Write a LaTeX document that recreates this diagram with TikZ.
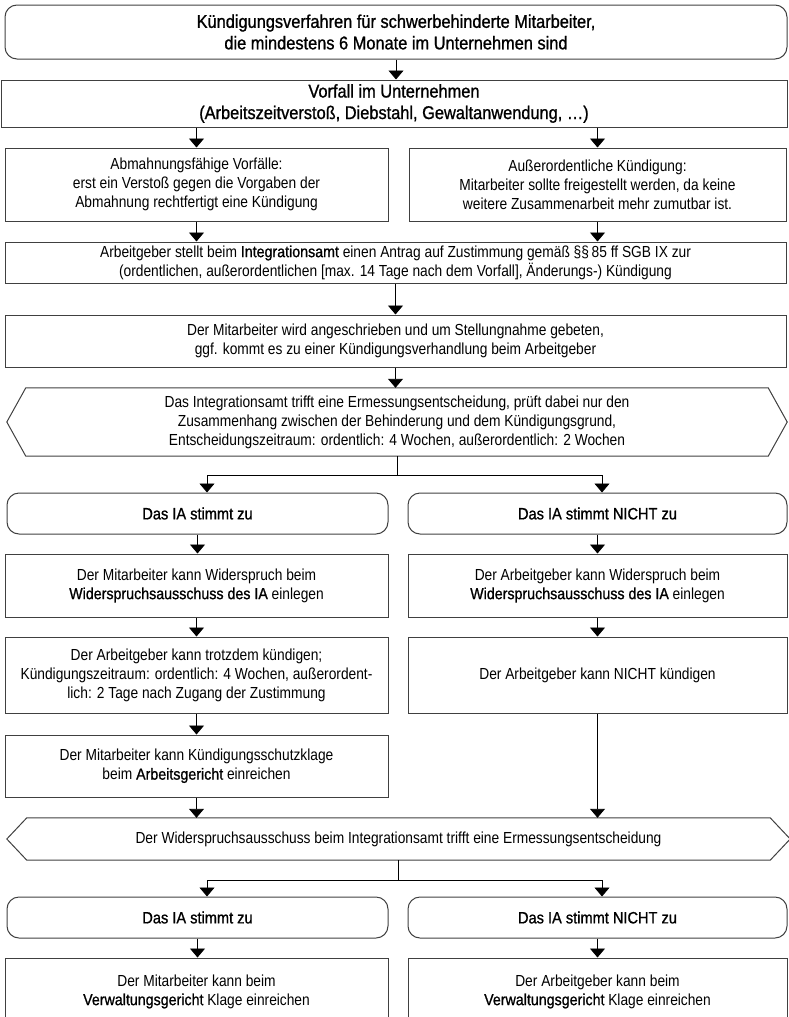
\documentclass[tikz,border=0pt]{standalone}
\usepackage{fontspec}
\setmainfont[FakeStretch=0.86]{Liberation Sans}
\newfontfamily\medfont[FakeStretch=0.89,FakeBold=1]{Liberation Sans}
\newcommand{\hl}[1]{{\medfont #1}}
\usetikzlibrary{arrows.meta}

\begin{document}
\begin{tikzpicture}[x=1pt,y=-1pt,
  box/.style={draw=black!75,line width=1pt,align=center,inner sep=0pt,font=\fontsize{16}{19}\selectfont},
  headbox/.style={box,font=\fontsize{18.4}{21.5}\medfont},
  rbox/.style={box,rounded corners=12pt,font=\fontsize{16.4}{19}\medfont},
  hexbox/.style={align=center,inner sep=0pt,font=\fontsize{16}{19}\selectfont},
  arr/.style={line width=0.9pt,-{Triangle[width=15pt,length=9pt]}}]
\useasboundingbox (0,0) rectangle (788,1017);

\node[headbox,rounded corners=12pt,minimum width=782,minimum height=54] (top) at (396,32)
  {Kündigungsverfahren für schwerbehinderte Mitarbeiter,\\die mindestens 6 Monate im Unternehmen sind};
\node[headbox,minimum width=786,minimum height=47] (vorfall) at (394,103.5)
  {Vorfall im Unternehmen\\(Arbeitszeitverstoß, Diebstahl, Gewaltanwendung, …)};
\node[box,minimum width=383,minimum height=73] (abm) at (196.5,184.5)
  {Abmahnungsfähige Vorfälle:\\erst ein Verstoß gegen die Vorgaben der\\Abmahnung rechtfertigt eine Kündigung};
\node[box,minimum width=377,minimum height=73] (ausser) at (597.5,184.5)
  {Außerordentliche Kündigung:\\Mitarbeiter sollte freigestellt werden, da keine\\weitere Zusammenarbeit mehr zumutbar ist.};
\node[box,minimum width=781,minimum height=41] (antrag) at (395.5,262.5)
  {Arbeitgeber stellt beim \hl{Integrationsamt} einen Antrag auf Zustimmung gemäß §§\,85 ff SGB IX zur\\(ordentlichen, außerordentlichen [max. 14 Tage nach dem Vorfall], Änderungs-) Kündigung};
\node[box,minimum width=781,minimum height=52] (anschr) at (395.5,341)
  {Der Mitarbeiter wird angeschrieben und um Stellungnahme gebeten,\\ggf. kommt es zu einer Kündigungsverhandlung beim Arbeitgeber};
\node[hexbox,minimum width=742,minimum height=68] (hex1) at (397,422)
  {Das Integrationsamt trifft eine Ermessungsentscheidung, prüft dabei nur den\\Zusammenhang zwischen der Behinderung und dem Kündigungsgrund,\\Entscheidungszeitraum: ordentlich: 4 Wochen, außerordentlich: 2 Wochen};
\draw[draw=black!75,line width=1pt] (hex1.north west) -- ([xshift=-19]hex1.west) -- (hex1.south west)
  -- (hex1.south east) -- ([xshift=19]hex1.east) -- (hex1.north east) -- cycle;

\node[rbox,minimum width=381,minimum height=41] (zu1) at (197.5,513.5) {Das IA stimmt zu};
\node[rbox,minimum width=379,minimum height=41] (nicht1) at (597.5,513.5) {Das IA stimmt NICHT zu};
\node[box,minimum width=383,minimum height=63] (wider1) at (196.5,585.5)
  {Der Mitarbeiter kann Widerspruch beim\\\hl{Widerspruchsausschuss des IA} einlegen};
\node[box,minimum width=379,minimum height=63] (wider2) at (597.5,585.5)
  {Der Arbeitgeber kann Widerspruch beim\\\hl{Widerspruchsausschuss des IA} einlegen};
\node[box,minimum width=383,minimum height=76] (trotz) at (196.5,675)
  {Der Arbeitgeber kann trotzdem kündigen;\\Kündigungszeitraum: ordentlich: 4 Wochen, außerordent-\\lich: 2 Tage nach Zugang der Zustimmung};
\node[box,minimum width=379,minimum height=76] (nichtk) at (597.5,675) {Der Arbeitgeber kann NICHT kündigen};
\node[box,minimum width=383,minimum height=62] (klage) at (196.5,766)
  {Der Mitarbeiter kann Kündigungsschutzklage\\beim \hl{Arbeitsgericht} einreichen};

\node[hexbox,minimum width=743,minimum height=42] (hex2) at (398.5,839)
  {Der Widerspruchsausschuss beim Integrationsamt trifft eine Ermessungsentscheidung};
\draw[draw=black!75,line width=1pt] (hex2.north west) -- ([xshift=-20]hex2.west) -- (hex2.south west)
  -- (hex2.south east) -- ([xshift=20]hex2.east) -- (hex2.north east) -- cycle;

\node[rbox,minimum width=381,minimum height=41] (zu2) at (197.5,917.5) {Das IA stimmt zu};
\node[rbox,minimum width=379,minimum height=41] (nicht2) at (597.5,917.5) {Das IA stimmt NICHT zu};
\node[box,minimum width=383,minimum height=67] (vg1) at (196.5,991.5)
  {Der Mitarbeiter kann beim\\\hl{Verwaltungsgericht} Klage einreichen};
\node[box,minimum width=379,minimum height=67] (vg2) at (597.5,991.5)
  {Der Arbeitgeber kann beim\\\hl{Verwaltungsgericht} Klage einreichen};

\draw[arr] (top.south) -- (top.south |- vorfall.north);
\draw[arr] (vorfall.south -| abm) -- (abm.north);
\draw[arr] (vorfall.south -| ausser) -- (ausser.north);
\draw[arr] (abm.south) -- (abm.south |- antrag.north);
\draw[arr] (ausser.south) -- (ausser.south |- antrag.north);
\draw[arr] (antrag.south) -- (antrag.south |- anschr.north);
\draw[arr] (anschr.south) -- (anschr.south |- hex1.north);
\draw[arr] (hex1.south) -- ++(0,19) -| ([xshift=9.5]zu1.north);
\draw[arr] (hex1.south) -- ++(0,19) -| ([xshift=4.5]nicht1.north);
\draw[arr] (zu1.south) -- (zu1.south |- wider1.north);
\draw[arr] (wider1.south) -- (wider1.south |- trotz.north);
\draw[arr] (trotz.south) -- (trotz.south |- klage.north);
\draw[arr] (klage.south) -- (klage.south |- hex2.north);
\draw[arr] (nicht1.south) -- (nicht1.south |- wider2.north);
\draw[arr] (wider2.south) -- (wider2.south |- nichtk.north);
\draw[arr] (nichtk.south) -- (nichtk.south |- hex2.north);
\draw[arr] (hex2.south) -- ++(0,20) -| ([xshift=9.5]zu2.north);
\draw[arr] (hex2.south) -- ++(0,20) -| ([xshift=4.5]nicht2.north);
\draw[arr] (zu2.south) -- (zu2.south |- vg1.north);
\draw[arr] (nicht2.south) -- (nicht2.south |- vg2.north);
\end{tikzpicture}
\end{document}
